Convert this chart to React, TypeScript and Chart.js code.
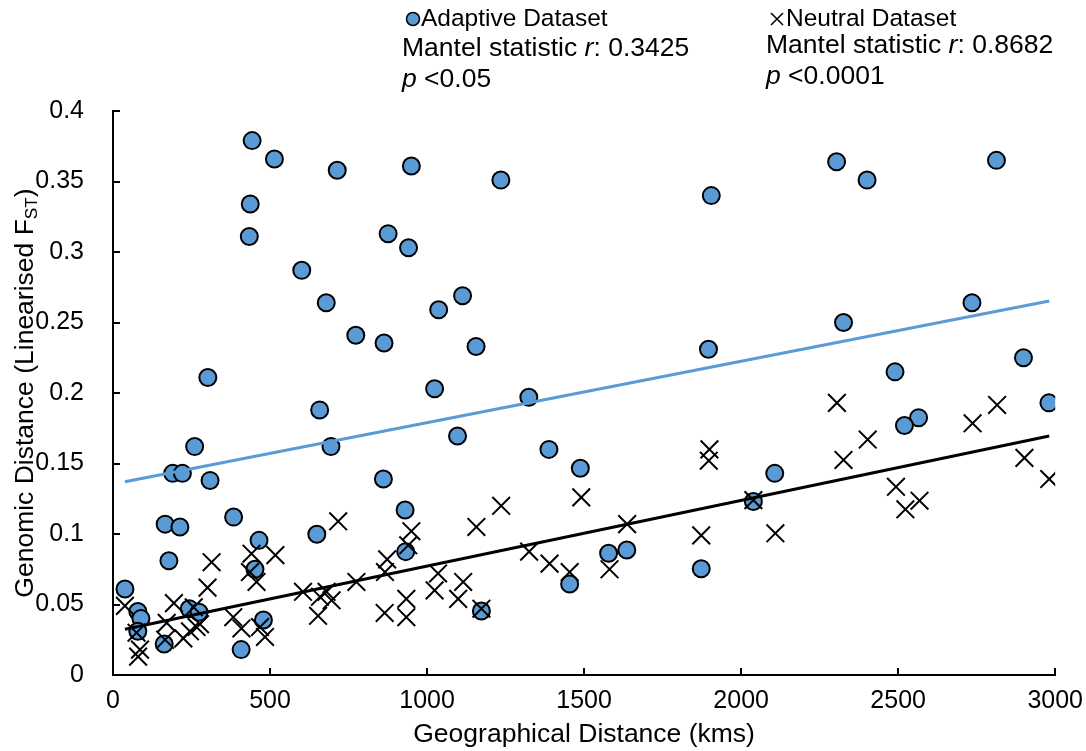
import React, { useEffect, useRef } from 'react';
import { Chart, registerables } from 'chart.js';

Chart.register(...registerables);

// ---- Data ----
const ADAPTIVE_X = [443, 514, 714, 950, 1235, 2304, 2813, 2401, 437, 1905, 434, 876, 941, 601, 679, 1113, 1037, 2735, 773, 863, 1156, 1896, 2326, 302, 1024, 1324, 2490, 2899, 2980, 2565, 2520, 658, 694, 260, 190, 221, 309, 861, 1097, 1388, 1488, 2107, 2039, 166, 213, 384, 465, 649, 930, 932, 1578, 1636, 1454, 1873, 178, 452, 38, 79, 89, 79, 163, 243, 274, 479, 408, 1173];
const ADAPTIVE_Y = [0.379, 0.366, 0.358, 0.361, 0.351, 0.364, 0.365, 0.351, 0.334, 0.340, 0.311, 0.313, 0.303, 0.287, 0.264, 0.269, 0.259, 0.264, 0.241, 0.2355, 0.233, 0.231, 0.250, 0.211, 0.203, 0.197, 0.215, 0.225, 0.193, 0.1825, 0.177, 0.188, 0.162, 0.162, 0.143, 0.143, 0.138, 0.139, 0.1695, 0.160, 0.1466, 0.143, 0.123, 0.107, 0.105, 0.112, 0.0955, 0.0998, 0.117, 0.0875, 0.0863, 0.0887, 0.0645, 0.0754, 0.081, 0.075, 0.061, 0.045, 0.040, 0.031, 0.022, 0.047, 0.0445, 0.039, 0.018, 0.0454];

const NEUTRAL_X = [38, 75, 86, 80, 166, 171, 194, 224, 245, 257, 266, 277, 301, 314, 383, 409, 436, 441, 457, 468, 484, 517, 605, 653, 659, 680, 696, 717, 775, 865, 866, 873, 934, 934, 940, 950, 1024, 1035, 1099, 1115, 1157, 1173, 1236, 1325, 1390, 1454, 1491, 1581, 1637, 1873, 1899, 1897, 2039, 2109, 2305, 2326, 2403, 2493, 2523, 2568, 2737, 2815, 2902, 2981];
const NEUTRAL_Y = [0.049, 0.030, 0.018, 0.013, 0.025, 0.037, 0.051, 0.026, 0.031, 0.048, 0.034, 0.036, 0.062, 0.080, 0.041, 0.033, 0.073, 0.086, 0.066, 0.034, 0.027, 0.085, 0.059, 0.042, 0.0555, 0.059, 0.053, 0.109, 0.066, 0.044, 0.073, 0.082, 0.054, 0.041, 0.092, 0.102, 0.060, 0.072, 0.054, 0.066, 0.105, 0.047, 0.120, 0.0875, 0.079, 0.073, 0.126, 0.075, 0.107, 0.099, 0.160, 0.152, 0.124, 0.1005, 0.193, 0.1525, 0.167, 0.1335, 0.1175, 0.1236, 0.1785, 0.1915, 0.154, 0.139];

const TREND_X = [38, 2981];
const ADAPTIVE_TREND_Y = [0.137, 0.2652];
const NEUTRAL_TREND_Y = [0.0324, 0.1695];

const X_TICKS = [0, 500, 1000, 1500, 2000, 2500, 3000];
const X_TICK_LABELS = ['0', '500', '1000', '1500', '2000', '2500', '3000'];
const Y_TICKS = [0, 0.05, 0.1, 0.15, 0.2, 0.25, 0.3, 0.35, 0.4];
const Y_TICK_LABELS = ['0', '0.05', '0.1', '0.15', '0.2', '0.25', '0.3', '0.35', '0.4'];

const SERIES_NAMES = ['Adaptive Dataset', 'Neutral Dataset'];
const MANTEL_R = ['0.3425', '0.8682'];
const MANTEL_P = ['<0.05', '<0.0001'];

const X_TITLE = 'Geographical Distance (kms)';
const Y_TITLE_MAIN = 'Genomic Distance (Linearised F';
const Y_TITLE_SUB = 'ST';
const Y_TITLE_END = ')';

const BLUE = '#5B9BD5';
const FONT = "'Liberation Sans', Arial, sans-serif";
const TITLE_SIZE = 26.5;
const TEXT_SIZE = 26.5;
const LEGEND_SIZE = 24.5;
const TICK_SIZE = 25;

function drawSegments(ctx: CanvasRenderingContext2D, x: number, y: number, segs: { t: string; i: boolean }[], size: number) {
  let cx = x;
  for (const s of segs) {
    ctx.font = `${s.i ? 'italic ' : ''}${size}px ${FONT}`;
    ctx.fillText(s.t, cx, y);
    cx += ctx.measureText(s.t).width;
  }
}

const decorPlugin = {
  id: 'decor',
  afterDraw(chart: any) {
    const ctx: CanvasRenderingContext2D = chart.ctx;
    const area = chart.chartArea;
    const xs = chart.scales.x;
    const ys = chart.scales.y;
    ctx.save();
    // inward tick marks
    ctx.strokeStyle = '#000';
    ctx.lineWidth = 2;
    ctx.beginPath();
    for (const v of Y_TICKS) {
      const py = Math.round(ys.getPixelForValue(v));
      ctx.moveTo(area.left, py);
      ctx.lineTo(area.left + 7, py);
    }
    for (const v of X_TICKS) {
      const px = Math.round(xs.getPixelForValue(v));
      ctx.moveTo(px, area.bottom);
      ctx.lineTo(px, area.bottom - 7);
    }
    ctx.stroke();

    ctx.fillStyle = '#000';
    ctx.textBaseline = 'middle';
    // x title
    ctx.font = `${TITLE_SIZE}px ${FONT}`;
    ctx.textAlign = 'center';
    ctx.fillText(X_TITLE, (area.left + area.right) / 2, 735);

    // y title with subscript
    ctx.save();
    ctx.translate(26, (area.top + area.bottom) / 2);
    ctx.rotate(-Math.PI / 2);
    ctx.textAlign = 'left';
    ctx.font = `${TITLE_SIZE}px ${FONT}`;
    const w1 = ctx.measureText(Y_TITLE_MAIN).width;
    const w3 = ctx.measureText(Y_TITLE_END).width;
    ctx.font = `${TITLE_SIZE * 0.65}px ${FONT}`;
    const w2 = ctx.measureText(Y_TITLE_SUB).width;
    let sx = -(w1 + w2 + w3) / 2;
    ctx.font = `${TITLE_SIZE}px ${FONT}`;
    ctx.fillText(Y_TITLE_MAIN, sx, 0);
    sx += w1;
    ctx.font = `${TITLE_SIZE * 0.65}px ${FONT}`;
    ctx.fillText(Y_TITLE_SUB, sx, 6);
    sx += w2;
    ctx.font = `${TITLE_SIZE}px ${FONT}`;
    ctx.fillText(Y_TITLE_END, sx, 0);
    ctx.restore();

    // legend
    ctx.textAlign = 'left';
    ctx.beginPath();
    ctx.arc(413, 19, 6.5, 0, Math.PI * 2);
    ctx.fillStyle = BLUE;
    ctx.fill();
    ctx.lineWidth = 1.5;
    ctx.strokeStyle = '#000';
    ctx.stroke();
    ctx.fillStyle = '#000';
    ctx.font = `${LEGEND_SIZE}px ${FONT}`;
    ctx.fillText(SERIES_NAMES[0], 421, 19);

    ctx.beginPath();
    ctx.lineWidth = 1.5;
    ctx.moveTo(771, 13); ctx.lineTo(783, 25);
    ctx.moveTo(783, 13); ctx.lineTo(771, 25);
    ctx.stroke();
    ctx.fillText(SERIES_NAMES[1], 786, 19);

    // Mantel statistics
    drawSegments(ctx, 402, 49, [{ t: 'Mantel statistic ', i: false }, { t: 'r', i: true }, { t: ': ' + MANTEL_R[0], i: false }], TEXT_SIZE);
    drawSegments(ctx, 402, 80, [{ t: 'p', i: true }, { t: ' ' + MANTEL_P[0], i: false }], TEXT_SIZE);
    drawSegments(ctx, 766, 46, [{ t: 'Mantel statistic ', i: false }, { t: 'r', i: true }, { t: ': ' + MANTEL_R[1], i: false }], TEXT_SIZE);
    drawSegments(ctx, 766, 77, [{ t: 'p', i: true }, { t: ' ' + MANTEL_P[1], i: false }], TEXT_SIZE);
    ctx.restore();
  },
};

export default function App() {
  const canvasRef = useRef<HTMLCanvasElement | null>(null);

  useEffect(() => {
    document.body.style.margin = '0';
    const canvas = canvasRef.current;
    if (!canvas) return;
    const toPts = (xs: number[], ys: number[]) => xs.map((x, i) => ({ x, y: ys[i] }));
    const chart = new Chart(canvas, {
      type: 'scatter',
      data: {
        datasets: [
          {
            type: 'line',
            label: 'Adaptive trend',
            data: toPts(TREND_X, ADAPTIVE_TREND_Y),
            borderColor: BLUE,
            borderWidth: 3,
            pointRadius: 0,
            fill: false,
            order: 0,
          },
          {
            type: 'line',
            label: 'Neutral trend',
            data: toPts(TREND_X, NEUTRAL_TREND_Y),
            borderColor: '#000',
            borderWidth: 3,
            pointRadius: 0,
            fill: false,
            order: 0,
          },
          {
            label: SERIES_NAMES[1],
            data: toPts(NEUTRAL_X, NEUTRAL_Y),
            pointStyle: 'crossRot',
            pointRadius: 12.5,
            borderColor: '#000',
            borderWidth: 2,
            backgroundColor: '#000',
            order: 1,
          },
          {
            label: SERIES_NAMES[0],
            data: toPts(ADAPTIVE_X, ADAPTIVE_Y),
            pointStyle: 'circle',
            pointRadius: 8.5,
            backgroundColor: BLUE,
            borderColor: '#000',
            borderWidth: 2,
            order: 2,
          },
        ],
      } as any,
      options: {
        animation: false,
        responsive: true,
        maintainAspectRatio: false,
        layout: { padding: { left: 5, right: 30, top: 111, bottom: 36 } },
        plugins: { legend: { display: false }, tooltip: { enabled: false } },
        scales: {
          x: {
            type: 'linear',
            min: 0,
            max: 3000,
            afterBuildTicks: (s: any) => { s.ticks = X_TICKS.map((v) => ({ value: v })); },
            afterFit: (s: any) => { s.height = 40; },
            ticks: {
              callback: (_v: any, i: number) => X_TICK_LABELS[i],
              color: '#000',
              font: { family: FONT, size: TICK_SIZE },
              padding: 3,
              maxRotation: 0,
            },
            grid: { display: false },
            border: { display: true, color: '#000', width: 2 },
          },
          y: {
            type: 'linear',
            min: 0,
            max: 0.4,
            afterBuildTicks: (s: any) => { s.ticks = Y_TICKS.map((v) => ({ value: v })); },
            afterFit: (s: any) => { s.width = 108; },
            ticks: {
              callback: (_v: any, i: number) => Y_TICK_LABELS[i],
              color: '#000',
              font: { family: FONT, size: TICK_SIZE },
              padding: 21,
            },
            grid: { display: false },
            border: { display: true, color: '#000', width: 2 },
          },
        },
      },
      plugins: [decorPlugin],
    } as any);
    return () => chart.destroy();
  }, []);

  return (
    <div style={{ position: 'relative', width: '1086px', height: '751px' }}>
      <canvas ref={canvasRef} />
    </div>
  );
}
